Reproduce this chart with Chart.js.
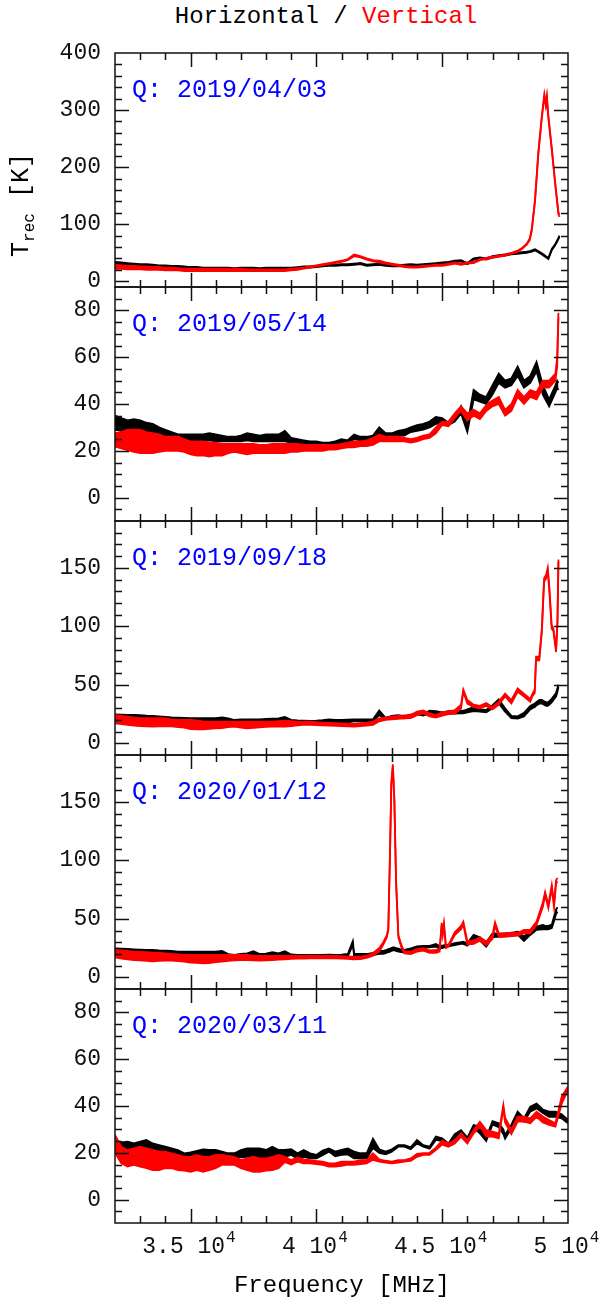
<!DOCTYPE html>
<html>
<head>
<meta charset="utf-8">
<script src="https://cdn.jsdelivr.net/npm/chart.js@4.4.1/dist/chart.umd.min.js"></script>
<style>
  html, body { margin: 0; padding: 0; background: #fff; }
  #wrap { position: relative; width: 604px; height: 1309px; overflow: hidden; font-family: 'Liberation Mono', monospace; color: #000; }
  #wrap canvas { position: absolute; left: 0; }
  #title { position: absolute; left: 24px; top: 5px; width: 604px; text-align: center; font-size: 24px; line-height: 24px; white-space: pre; }
  #xtitle { position: absolute; left: 40px; top: 1274px; width: 604px; text-align: center; font-size: 24px; line-height: 24px; }
  #ytitle { position: absolute; left: -48px; top: 190px; width: 140px; height: 30px; line-height: 30px; text-align: center;
            font-size: 25px; transform: rotate(-90deg); white-space: pre; }
  #ytitle sub { font-size: 16px; line-height: 0; vertical-align: -6px; }
</style>
</head>
<body>
<div id="wrap">
  <canvas id="panel0"></canvas>
  <canvas id="panel1"></canvas>
  <canvas id="panel2"></canvas>
  <canvas id="panel3"></canvas>
  <canvas id="panel4"></canvas>
  <div id="title">Horizontal / <span style="color:#ff0000">Vertical</span></div>
  <div id="ytitle">T<sub>rec</sub> [K]</div>
  <div id="xtitle">Frequency [MHz]</div>
</div>
<script>
// x axis (MHz)
var xMin = 32000;
var xMax = 50000;
var xTickValues = [35000, 40000, 45000, 50000];
var xTickText = ['3.5', '4', '4.5', '5'];

// panel labels and y ranges
var dates = ['Q: 2019/04/03', 'Q: 2019/05/14', 'Q: 2019/09/18', 'Q: 2020/01/12', 'Q: 2020/03/11'];
var yMins = [-10, -10, -10, -10, -10];
var yMaxs = [400, 90, 190, 190, 90];
var yMajor = [100, 20, 50, 50, 20];
var yMinor = [20, 5, 10, 10, 5];
var yLabels = [
  [0, 100, 200, 300, 400],
  [0, 20, 40, 60, 80],
  [0, 50, 100, 150],
  [0, 50, 100, 150],
  [0, 20, 40, 60, 80],
];

// ---- panel 1 : 2019/04/03 ----
var freq1 = [
  32000, 32250, 32500, 32750, 33000, 33250, 33500, 33750, 34000, 34250,
  34500, 34750, 35000, 35250, 35500, 35750, 36000, 36250, 36500, 36750,
  37000, 37250, 37500, 37750, 38000, 38250, 38500, 38750, 39000, 39250,
  39500, 39750, 40000, 40250, 40500, 40750, 41000, 41250, 41500, 41750,
  42000, 42250, 42500, 42750, 43000, 43250, 43500, 43750, 44000, 44250,
  44500, 44750, 45000, 45250, 45500, 45750, 46000, 46250, 46500, 46750,
  47000, 47250, 47500, 47750, 48000,
  48160, 48360, 48480, 48560, 48690, 48820, 48960, 49060, 49120, 49160, 49220, 49360, 49490, 49620, 49660];
var h1Lo = [
  29, 28, 27, 27, 26, 26, 25, 25, 24, 24,
  23, 23, 22, 22, 21, 21, 21, 21, 21, 21,
  21, 21, 21, 21, 21, 21, 22, 22, 22, 23,
  24, 24, 25, 26, 27, 27, 28, 28, 29, 30,
  27, 28, 29, 27, 26, 26, 27, 28, 27, 28,
  29, 30, 31, 32, 34, 35, 30, 38, 40, 38,
  42, 44, 45, 47, 48,
  49, 50, 51, 52, 54, 51, 47, 44, 42, 41, 39, 55, 63, 74, 78];
var h1Hi = [
  34, 33, 32, 31, 30, 30, 29, 28, 28, 27,
  27, 26, 25, 25, 24, 24, 24, 24, 24, 23,
  24, 24, 24, 23, 24, 24, 24, 24, 24, 25,
  26, 26, 27, 28, 29, 29, 30, 30, 31, 32,
  29, 30, 31, 29, 28, 28, 29, 30, 29, 30,
  31, 32, 33, 34, 36, 37, 32, 40, 42, 40,
  44, 46, 47, 49, 50,
  51, 52, 53, 54, 56, 53, 49, 46, 44, 43, 41, 57, 65, 76, 80];
var v1Lo = [
  22, 22, 21, 21, 21, 20, 20, 20, 19, 19,
  19, 18, 18, 18, 18, 18, 18, 18, 18, 18,
  18, 18, 18, 18, 18, 18, 18, 18, 19, 20,
  22, 24, 26, 28, 30, 32, 34, 37, 44, 42,
  38, 35, 33, 31, 29, 27, 25, 24, 24, 25,
  26, 27, 27, 29, 31, 29, 31, 32, 37, 39,
  41, 43, 45, 48, 52,
  56, 64, 72, 88, 140, 222, 286, 324, 307, 321, 286, 228, 170, 117, 113];
var v1Hi = [
  29, 28, 27, 27, 26, 26, 25, 25, 24, 24,
  23, 22, 22, 22, 22, 22, 22, 22, 22, 22,
  22, 21, 21, 21, 21, 21, 21, 21, 22, 23,
  24, 26, 28, 30, 32, 34, 36, 39, 47, 44,
  40, 37, 36, 33, 31, 29, 27, 26, 26, 27,
  28, 29, 29, 31, 33, 31, 33, 34, 39, 41,
  43, 45, 47, 50, 54,
  58, 66, 75, 92, 144, 226, 290, 328, 311, 325, 290, 232, 174, 121, 117];

// ---- panel 2 : 2019/05/14 ----
var freq2 = [
  32000, 32250, 32500, 32750, 33000, 33250, 33500, 33750, 34000, 34250,
  34500, 34750, 35000, 35250, 35500, 35750, 36000, 36250, 36500, 36750,
  37000, 37250, 37500, 37750, 38000, 38250, 38500, 38750, 39000, 39250,
  39500, 39750, 40000, 40250, 40500, 40750, 41000, 41250, 41500, 41750,
  42000, 42250, 42500, 42750, 43000, 43250, 43500, 43750, 44000, 44250,
  44500, 44750, 45000, 45250, 45500, 45750, 46000, 46250, 46500, 46750,
  47000, 47250, 47500, 47750, 48000, 48250, 48500, 48750, 49000, 49250, 49500,
  49570, 49620];
var h2Lo = [
  29, 28.5, 28, 28, 27.5, 27.5, 27, 26.5, 26, 25.5,
  25, 24.5, 24, 24, 24, 24.5, 24, 24, 24, 24,
  24, 24.5, 24, 24, 24, 24, 24, 24, 23.5, 23,
  23, 22.5, 22.5, 22.5, 22.5, 23, 23, 23.5, 25, 24.5,
  24.5, 25, 26, 26, 26, 26.5, 26.5, 28, 28.5, 29,
  30, 31.5, 31.5, 31, 32.5, 36, 28, 42, 41, 40,
  44, 49, 47, 48, 52, 47, 49, 54, 44, 39, 45,
  47, 46];
var h2Hi = [
  35, 34, 33, 33.5, 33, 32, 31.5, 30, 29, 28,
  27, 27, 27, 27, 27, 27.5, 27, 26.5, 26, 26,
  26.5, 27.5, 27, 26.5, 27, 27, 27, 28.5, 25.5, 25,
  24.5, 24, 24, 23.5, 23.5, 24, 25, 24.5, 27, 26,
  26, 26.5, 30, 27.5, 27.5, 28.5, 29, 30, 31, 31.5,
  32.5, 34.5, 34, 32, 34, 39, 31, 46, 44, 43,
  48, 53, 50, 51, 56, 50, 52, 58, 48, 42, 48,
  50, 49];
var v2Lo = [
  21.8, 21, 20.3, 19.5, 19, 19, 19, 19.5, 20, 20,
  20, 19.5, 18.5, 18, 18, 17.5, 18, 18, 19, 19.5,
  19, 18.5, 19, 19, 19, 19, 19, 19, 19.5, 19.5,
  20, 20, 20, 20, 20.5, 20.5, 21, 21.5, 21.5, 22,
  22, 22.5, 24, 24, 24, 24, 24, 23.5, 24, 25,
  25.5, 27.5, 31, 30.5, 34, 37, 33, 35, 33.5, 37,
  39, 40, 35, 37, 43, 40, 43, 42, 47, 47, 50,
  56, 77];
var v2Hi = [
  27.5, 28, 29, 29, 29, 28, 27.5, 27, 26, 26,
  26, 25, 24, 24, 24, 23.5, 23.5, 23, 23, 23,
  23, 23, 23, 22.5, 22.5, 23, 23, 23, 23, 23,
  22.5, 22.5, 22.5, 22.5, 22.5, 22.5, 23, 23.5, 24, 24,
  24.5, 25.5, 27, 26, 26, 26, 25.5, 25, 25.5, 26.5,
  27, 30, 32.5, 32.5, 36, 39, 36, 37.5, 36, 39.5,
  41.5, 43, 37.5, 40, 46, 43, 46, 45, 50, 50, 53,
  60, 79];

// ---- panel 3 : 2019/09/18 ----
var freq3 = [
  32000, 32250, 32500, 32750, 33000, 33250, 33500, 33750, 34000, 34250,
  34500, 34750, 35000, 35250, 35500, 35750, 36000, 36250, 36500, 36750,
  37000, 37250, 37500, 37750, 38000, 38250, 38500, 38750, 39000, 39250,
  39500, 39750, 40000, 40250, 40500, 40750, 41000, 41250, 41500, 41750,
  42000, 42250, 42500, 42750, 43000, 43250, 43500, 43750, 44000, 44250,
  44500, 44750, 45000, 45250, 45500, 45750,
  45840,
  46000, 46250, 46500, 46750, 47000, 47250, 47500, 47750, 48000, 48250, 48500,
  48580, 48680, 48730, 48860, 48960, 49050, 49130, 49195, 49260, 49350, 49420, 49525, 49580, 49620];
var h3Lo = [
  20.5, 20.3, 20, 19.9, 19.7, 19.4, 18.8, 18.6, 18.5, 18.2,
  18, 17.9, 17.7, 17.7, 18, 18.2, 18.5, 18.5, 18.2, 17.7,
  17.9, 18.2, 18, 17.7, 18, 18.2, 18.3, 18.5, 18.5, 17.7,
  17.7, 17.7, 17.7, 18, 18.2, 18, 17.7, 18, 18.8, 18.8,
  18.8, 18.8, 24, 20.5, 21.5, 22.2, 21.4, 22.5, 24.8, 23.6,
  25.5, 25, 24.8, 25.5, 25.3, 25.5,
  25.5,
  26.5, 27.5, 27, 26.5, 30, 34, 27, 21.5, 21.1, 23, 29,
  30, 31, 32, 34, 34, 33, 32, 32, 33, 35, 37, 40, 44, 48];
var h3Hi = [
  24.8, 24.5, 24.3, 24.2, 24, 23.6, 23.4, 23, 22.6, 22.2,
  22, 21.8, 21.4, 21.4, 21.5, 21.4, 21.6, 22.2, 21.2, 19.9,
  20.5, 20.5, 20.5, 20.5, 20.8, 21.1, 21.2, 22.5, 20, 19.6,
  19.4, 19.1, 19.3, 19.7, 20.5, 19.9, 19.9, 20.3, 20.5, 20.5,
  20.5, 20.5, 28, 21.8, 23.4, 24, 23, 24.5, 25.6, 25,
  27.9, 27.5, 26.5, 27.5, 27.6, 27.8,
  27.8,
  29, 30.8, 29, 28.5, 32.5, 37.6, 30, 23.4, 23, 26, 32,
  33, 34, 35, 37, 37, 36, 35, 35, 36, 38, 40, 43, 47, 50];
var v3Lo = [
  17.1, 16.5, 15.8, 15.2, 14.8, 14.5, 14.2, 14.5, 14.8, 14.5,
  13.9, 13.5, 12.2, 12, 12, 12.3, 12.8, 13, 13.8, 14.2,
  13.5, 12.8, 13.2, 13.7, 14, 14.2, 14.2, 14.2, 14.8, 15.4,
  15.7, 15.7, 15.5, 15.4, 15.2, 15, 14.8, 14.5, 14.2, 14.8,
  15.1, 15.7, 18.8, 20, 20.5, 21, 21.4, 21.6, 24, 25.5,
  23, 22, 23.6, 25, 25.4, 30,
  44,
  34, 31, 30, 32, 29, 33, 40, 34, 44, 40, 35.5,
  40, 43, 71, 71, 95, 138, 141, 147, 130, 98, 96, 78, 101, 155];
var v3Hi = [
  24.2, 23.5, 22.8, 22.2, 21.4, 21.4, 21.4, 21.4, 21.4, 20.5,
  19.9, 19.9, 19.9, 19.6, 18.8, 18.5, 18.5, 18.5, 18.5, 18.5,
  18.5, 18.5, 18.5, 18.5, 18.5, 18.5, 19, 19.4, 19, 18.5,
  18.5, 18.5, 18, 17.7, 17.5, 17.3, 17.1, 16.8, 16.5, 17.2,
  17.7, 18.5, 21.4, 22, 22.8, 23.4, 23.8, 24.2, 27, 28,
  25.6, 24.2, 26.5, 27.3, 28.3, 33,
  46,
  37, 33, 32, 34.5, 31, 35.6, 42.5, 37, 47, 42.5, 38,
  42, 46, 74, 74, 98, 141, 144, 150, 133, 101, 98, 81, 104, 157];

// ---- panel 4 : 2020/01/12 ----
var freq4 = [
  32000, 32250, 32500, 32750, 33000, 33250, 33500, 33750, 34000, 34250,
  34500, 34750, 35000, 35250, 35500, 35750, 36000, 36250, 36500, 36750,
  37000, 37250, 37500, 37750, 38000, 38250, 38500, 38750, 39000, 39250,
  39500, 39750, 40000, 40250, 40500, 40750, 41000, 41250, 41450, 41500,
  41750, 42000, 42250, 42500, 42660, 42730, 42800, 42860, 42930, 42980,
  43040, 43100, 43170, 43260, 43390, 43500, 43750, 44000, 44250, 44500,
  44750, 44900, 44980, 45020, 45070, 45150, 45250, 45500, 45750, 45840,
  46000, 46250, 46500, 46750, 47000, 47100, 47250, 47500, 47750, 48000,
  48250, 48500, 48750, 49000, 49090, 49220, 49355, 49445, 49525, 49580];
var h4Lo = [
  21.1, 21, 20.7, 20.5, 20.3, 20, 19.9, 19.5, 19.3, 19.1,
  18.8, 18.5, 18.2, 18.2, 18.2, 18.2, 18.2, 18.5, 17.4, 17.1,
  17.4, 17.7, 17.7, 17.1, 17.4, 17.7, 17.4, 17.4, 16.8, 16.8,
  16.8, 17.1, 17.1, 17.1, 17.1, 17.1, 17.1, 17.7, 28, 18.5,
  17.7, 17.7, 19, 20, 20, 20.5, 21, 21.5, 22, 22.5,
  23, 23, 22.5, 22, 21.5, 21.1, 22, 24, 25, 25.7,
  26.2, 24.5, 25, 25, 25.5, 26, 26.5, 27.6, 28.5, 28.5,
  27, 33.3, 31.3, 26.2, 34.2, 34.5, 34.5, 35, 35.3, 36.5,
  31, 36.2, 40.5, 41, 41, 41, 42, 48, 54, 56];
var h4Hi = [
  24.8, 24.5, 24.2, 23.9, 23.6, 23.4, 23.4, 23, 22.8, 22.5,
  22, 22, 21.9, 21.9, 21.9, 21.9, 21.9, 22.5, 19.9, 19.1,
  19.9, 20.5, 22.2, 19.9, 20.3, 21.5, 20.5, 22.2, 19.5, 19.1,
  19.1, 19.1, 19.1, 19.1, 19.4, 19.1, 19.4, 19.9, 31, 20.3,
  20, 19.9, 20.8, 22.5, 22.5, 23, 23.5, 24, 24.5, 25,
  25.5, 25.5, 25, 24.5, 23.5, 23.4, 24.8, 26.5, 26.8, 26.8,
  28.5, 26.5, 27, 27, 27.5, 27.6, 28, 29.1, 30, 30.5,
  29, 36.2, 34.2, 30, 37.6, 37.5, 37, 37.6, 38, 39,
  35, 39, 43.3, 44.7, 44, 44, 45, 52, 58, 60];
var v4Lo = [
  17.1, 16, 15.4, 14.8, 14.5, 14, 13.7, 14, 14.3, 14.3,
  13.8, 13.4, 12.5, 12.3, 12, 12.2, 13, 13.4, 14, 14.5,
  14.8, 14.8, 14.5, 14.3, 14.5, 14.8, 15.2, 15.4, 15.7, 15.9,
  16, 16.2, 16.2, 16.2, 16.2, 16.2, 16, 15.7, 15.4, 15.4,
  15.6, 16.5, 18.5, 22, 28, 31, 34, 40, 107, 164,
  180, 150, 79, 34, 25, 20.5, 19.9, 22, 22.8, 21,
  21, 22, 44, 36, 44, 25, 26.2, 36, 41, 45,
  28, 28.5, 31.3, 27.6, 33, 44, 34.8, 34.8, 35.3, 35.6,
  37.6, 37.6, 44.7, 60, 70, 59, 76, 60, 80, 82];
var v4Hi = [
  23.4, 23, 22.5, 22, 21.8, 21.4, 21.1, 21, 20.5, 20,
  19.5, 19.1, 19.1, 19.1, 19.1, 19.1, 19.1, 19.1, 19.1, 19.1,
  19.1, 19.1, 18.5, 18.2, 18.2, 18.2, 18.2, 18.2, 18.2, 18.2,
  18.2, 18.2, 18.2, 18.2, 18.2, 18.2, 18, 17.7, 17.7, 17.7,
  17.7, 18.5, 20.5, 25, 30, 33, 36, 42, 110, 167,
  182, 153, 82, 36, 27, 22, 21.9, 24, 24.8, 23,
  23.5, 24, 46.5, 39, 46.5, 27, 27.6, 38.5, 44, 47.6,
  31, 31.3, 34.2, 30.5, 36, 47, 37.6, 37.6, 38.2, 37.8,
  40.5, 40.5, 47.6, 64, 73, 62, 79, 63, 83, 85];

// ---- panel 5 : 2020/03/11 ----
var freq5 = [
  32000, 32250, 32500, 32750, 33000, 33250, 33500, 33750, 34000, 34250,
  34500, 34750, 35000, 35250, 35500, 35750, 36000, 36250, 36500, 36750,
  37000, 37250, 37500, 37750, 38000, 38250, 38500, 38750, 39000, 39250,
  39500, 39750, 40000, 40250, 40500, 40750, 41000, 41250, 41500, 41750,
  42000, 42250, 42500, 42750, 43000, 43250, 43500, 43750, 44000, 44250,
  44500, 44750, 45000, 45250, 45500, 45750, 46000, 46250, 46500, 46750,
  47000, 47250,
  47430,
  47500, 47750, 48000, 48250, 48500, 48750, 49000, 49250, 49500, 49750, 50000];
var h5Lo = [
  21.2, 21.2, 21.2, 20.5, 20.5, 19.8, 19.8, 19.1, 18.6, 17.6,
  17.2, 16.9, 17, 17.4, 17.6, 18, 17.6, 17.2, 17.4, 17.6,
  18.1, 18.3, 18.3, 18.1, 18.1, 18.3, 18.1, 18.3, 19.1, 17.6,
  18.3, 17.6, 17.6, 19, 20.5, 18.5, 19.1, 19.3, 17.6, 17.6,
  17.6, 22, 20, 19.4, 20.5, 22.6, 22.6, 21.5, 24, 22.6,
  21.8, 25.5, 25, 23, 26.5, 28, 25, 30.5, 28.3, 25,
  32, 31,
  28,
  26, 30.5, 35.4, 33.3, 37.6, 39, 37, 35.4, 35.4, 34.7, 32.6];
var h5Hi = [
  25.5, 24.5, 24.8, 24, 24.8, 25.5, 24, 23.3, 22.6, 21.9,
  21.2, 19.8, 20.2, 20.8, 21.5, 21.2, 21.2, 20.5, 19.8, 19.8,
  21.2, 21.9, 21.9, 21.9, 21.2, 22.6, 21.2, 21.2, 21.5, 19.8,
  21.2, 19.8, 19.1, 21, 21.9, 20.5, 21.2, 21.9, 20.5, 19.8,
  19.8, 26, 21.5, 20.5, 21.5, 23.3, 23.3, 22.3, 25.5, 23.3,
  22.6, 26.9, 26.2, 24, 28, 29.7, 26.5, 31.9, 31.2, 26.5,
  33.5, 32.6,
  30,
  27.6, 32, 37.6, 34.7, 39.7, 41, 38.5, 37.6, 37.6, 36.5, 34];
var v5Lo = [
  20, 15.5, 14.1, 14.8, 14.1, 13.4, 12.6, 12.6, 13.4, 13.4,
  12.6, 12.4, 11.9, 12.6, 11.9, 12.6, 13.4, 14.8, 14.8, 14.8,
  13.4, 12.6, 11.9, 11.9, 12.4, 12.6, 13.4, 16, 15, 16.2,
  15.5, 15.5, 15.2, 14.8, 14.1, 14.1, 14.4, 15, 14.8, 15.2,
  15.5, 17, 16.2, 15.8, 15.5, 15.8, 16.2, 16.5, 18.3, 19.1,
  19.1, 21.2, 23.5, 22.6, 24, 26.9, 24, 28.3, 31.2, 26.9,
  26.9, 26.2,
  39,
  33, 28, 33.3, 33.3, 32.6, 35.4, 33, 31.9, 31.2, 41, 46.8];
var v5Hi = [
  27.6, 22.6, 21.2, 21.9, 22.6, 21.9, 21.2, 20.5, 20.5, 19.8,
  19.1, 18.3, 18.3, 19.1, 18.3, 18.3, 19.1, 19.1, 18.7, 18.3,
  16.9, 17.6, 18.3, 17.6, 17.6, 18.3, 19.1, 18.3, 16.9, 18,
  17.2, 16.9, 16.5, 16.2, 15.5, 15.5, 16.2, 16.2, 16.2, 16.9,
  16.9, 19.8, 17.2, 16.6, 16.2, 16.9, 16.9, 17.6, 19.5, 19.8,
  20, 22.2, 25.2, 24, 25.5, 28.3, 25.5, 29.7, 33.3, 29.7,
  29, 28.3,
  40.5,
  35, 30, 35.4, 35.4, 34.7, 37.6, 35.5, 34, 32.6, 44, 48.3];

var PANEL_TOP = 53;
var PANEL_H = 234;
var MONO = '"Liberation Mono", "DejaVu Sans Mono", monospace';

/**
 * frame plugin : box, inward ticks on all four sides, tick labels, date label
 */
var framePlugin = {
  id : 'frame',
  afterDatasetsDraw : function (chart, args, opts) {
    var ctx = chart.ctx;
    var a = chart.chartArea;
    var xs = chart.scales.x;
    var ys = chart.scales.y;
    var f, v, px, py, len;

    ctx.save();
    ctx.strokeStyle = '#111';
    ctx.lineWidth = 1.5;
    ctx.strokeRect(a.left, a.top, a.right - a.left, a.bottom - a.top);

    ctx.beginPath();
    for (f = xMin + 1000; f < xMax; f += 1000) {
      px = Math.round(xs.getPixelForValue(f)) + 0.5;
      len = f % 5000 === 0 ? 14 : 7;
      ctx.moveTo(px, a.bottom); ctx.lineTo(px, a.bottom - len);
      ctx.moveTo(px, a.top); ctx.lineTo(px, a.top + len);
    }
    var start = Math.ceil(opts.yMin / opts.minor) * opts.minor;
    for (v = start; v <= opts.yMax; v += opts.minor) {
      if (v === opts.yMin || v === opts.yMax) { continue; }
      py = Math.round(ys.getPixelForValue(v)) + 0.5;
      len = v % opts.major === 0 ? 14 : 7;
      ctx.moveTo(a.left, py); ctx.lineTo(a.left + len, py);
      ctx.moveTo(a.right, py); ctx.lineTo(a.right - len, py);
    }
    ctx.stroke();

    // y tick labels
    ctx.fillStyle = '#111';
    ctx.font = '23px ' + MONO;
    ctx.textAlign = 'right';
    ctx.textBaseline = 'middle';
    opts.labels.forEach(function (val) {
      ctx.fillText(String(val), a.left - 14, ys.getPixelForValue(val));
    });

    // date label
    ctx.fillStyle = '#0000ff';
    ctx.font = '25px ' + MONO;
    ctx.textAlign = 'left';
    ctx.textBaseline = 'alphabetic';
    ctx.fillText(opts.date, a.left + 17, a.top + 44);

    // x tick labels (bottom panel only)
    if (opts.xLabels) {
      ctx.fillStyle = '#111';
      xTickValues.forEach(function (val, i) {
        var main = xTickText[i] + ' 10';
        ctx.font = '23px ' + MONO;
        var w1 = ctx.measureText(main).width;
        ctx.font = '16px ' + MONO;
        var w2 = ctx.measureText('4').width;
        var x0 = xs.getPixelForValue(val) - (w1 + w2) / 2 - 2;
        ctx.font = '23px ' + MONO;
        ctx.fillText(main, x0, a.bottom + 30);
        ctx.font = '16px ' + MONO;
        ctx.fillText('4', x0 + w1 + 1, a.bottom + 19);
      });
    }
    ctx.restore();
  },
};

function buildPanel(idx, freq, hLo, hHi, vLo, vHi) {
  var last = idx === 4;
  var padTop = 14;
  var padBottom = last ? 44 : 14;
  var canvas = document.getElementById('panel' + idx);
  canvas.width = 604;
  canvas.height = PANEL_H + padTop + padBottom;
  canvas.style.top = (PANEL_TOP + idx * PANEL_H - padTop) + 'px';

  function points(arr) {
    return freq.map(function (f, j) { return { x : f, y : arr[j] }; });
  }
  function series(color, arr, fill, order) {
    return {
      data : points(arr),
      borderColor : color,
      backgroundColor : color,
      borderWidth : 1.8,
      pointRadius : 0,
      tension : 0,
      fill : fill,
      order : order,
    };
  }

  return new Chart(canvas.getContext('2d'), {
    type : 'line',
    data : {
      datasets : [
        series('#000000', hHi, false, 4),
        series('#000000', hLo, '-1', 3),
        series('#ff0000', vHi, false, 2),
        series('#ff0000', vLo, '-1', 1),
      ],
    },
    options : {
      responsive : false,
      animation : false,
      events : [],
      layout : { padding : { left : 115, right : 36, top : padTop, bottom : padBottom } },
      scales : {
        x : { type : 'linear', min : xMin, max : xMax, display : false },
        y : { type : 'linear', min : yMins[idx], max : yMaxs[idx], display : false },
      },
      plugins : {
        legend : { display : false },
        tooltip : { enabled : false },
        filler : { drawTime : 'beforeDatasetDraw' },
        frame : {
          yMin : yMins[idx],
          yMax : yMaxs[idx],
          major : yMajor[idx],
          minor : yMinor[idx],
          labels : yLabels[idx],
          date : dates[idx],
          xLabels : last,
        },
      },
    },
    plugins : [framePlugin],
  });
}

buildPanel(0, freq1, h1Lo, h1Hi, v1Lo, v1Hi);
buildPanel(1, freq2, h2Lo, h2Hi, v2Lo, v2Hi);
buildPanel(2, freq3, h3Lo, h3Hi, v3Lo, v3Hi);
buildPanel(3, freq4, h4Lo, h4Hi, v4Lo, v4Hi);
buildPanel(4, freq5, h5Lo, h5Hi, v5Lo, v5Hi);
</script>
</body>
</html>
